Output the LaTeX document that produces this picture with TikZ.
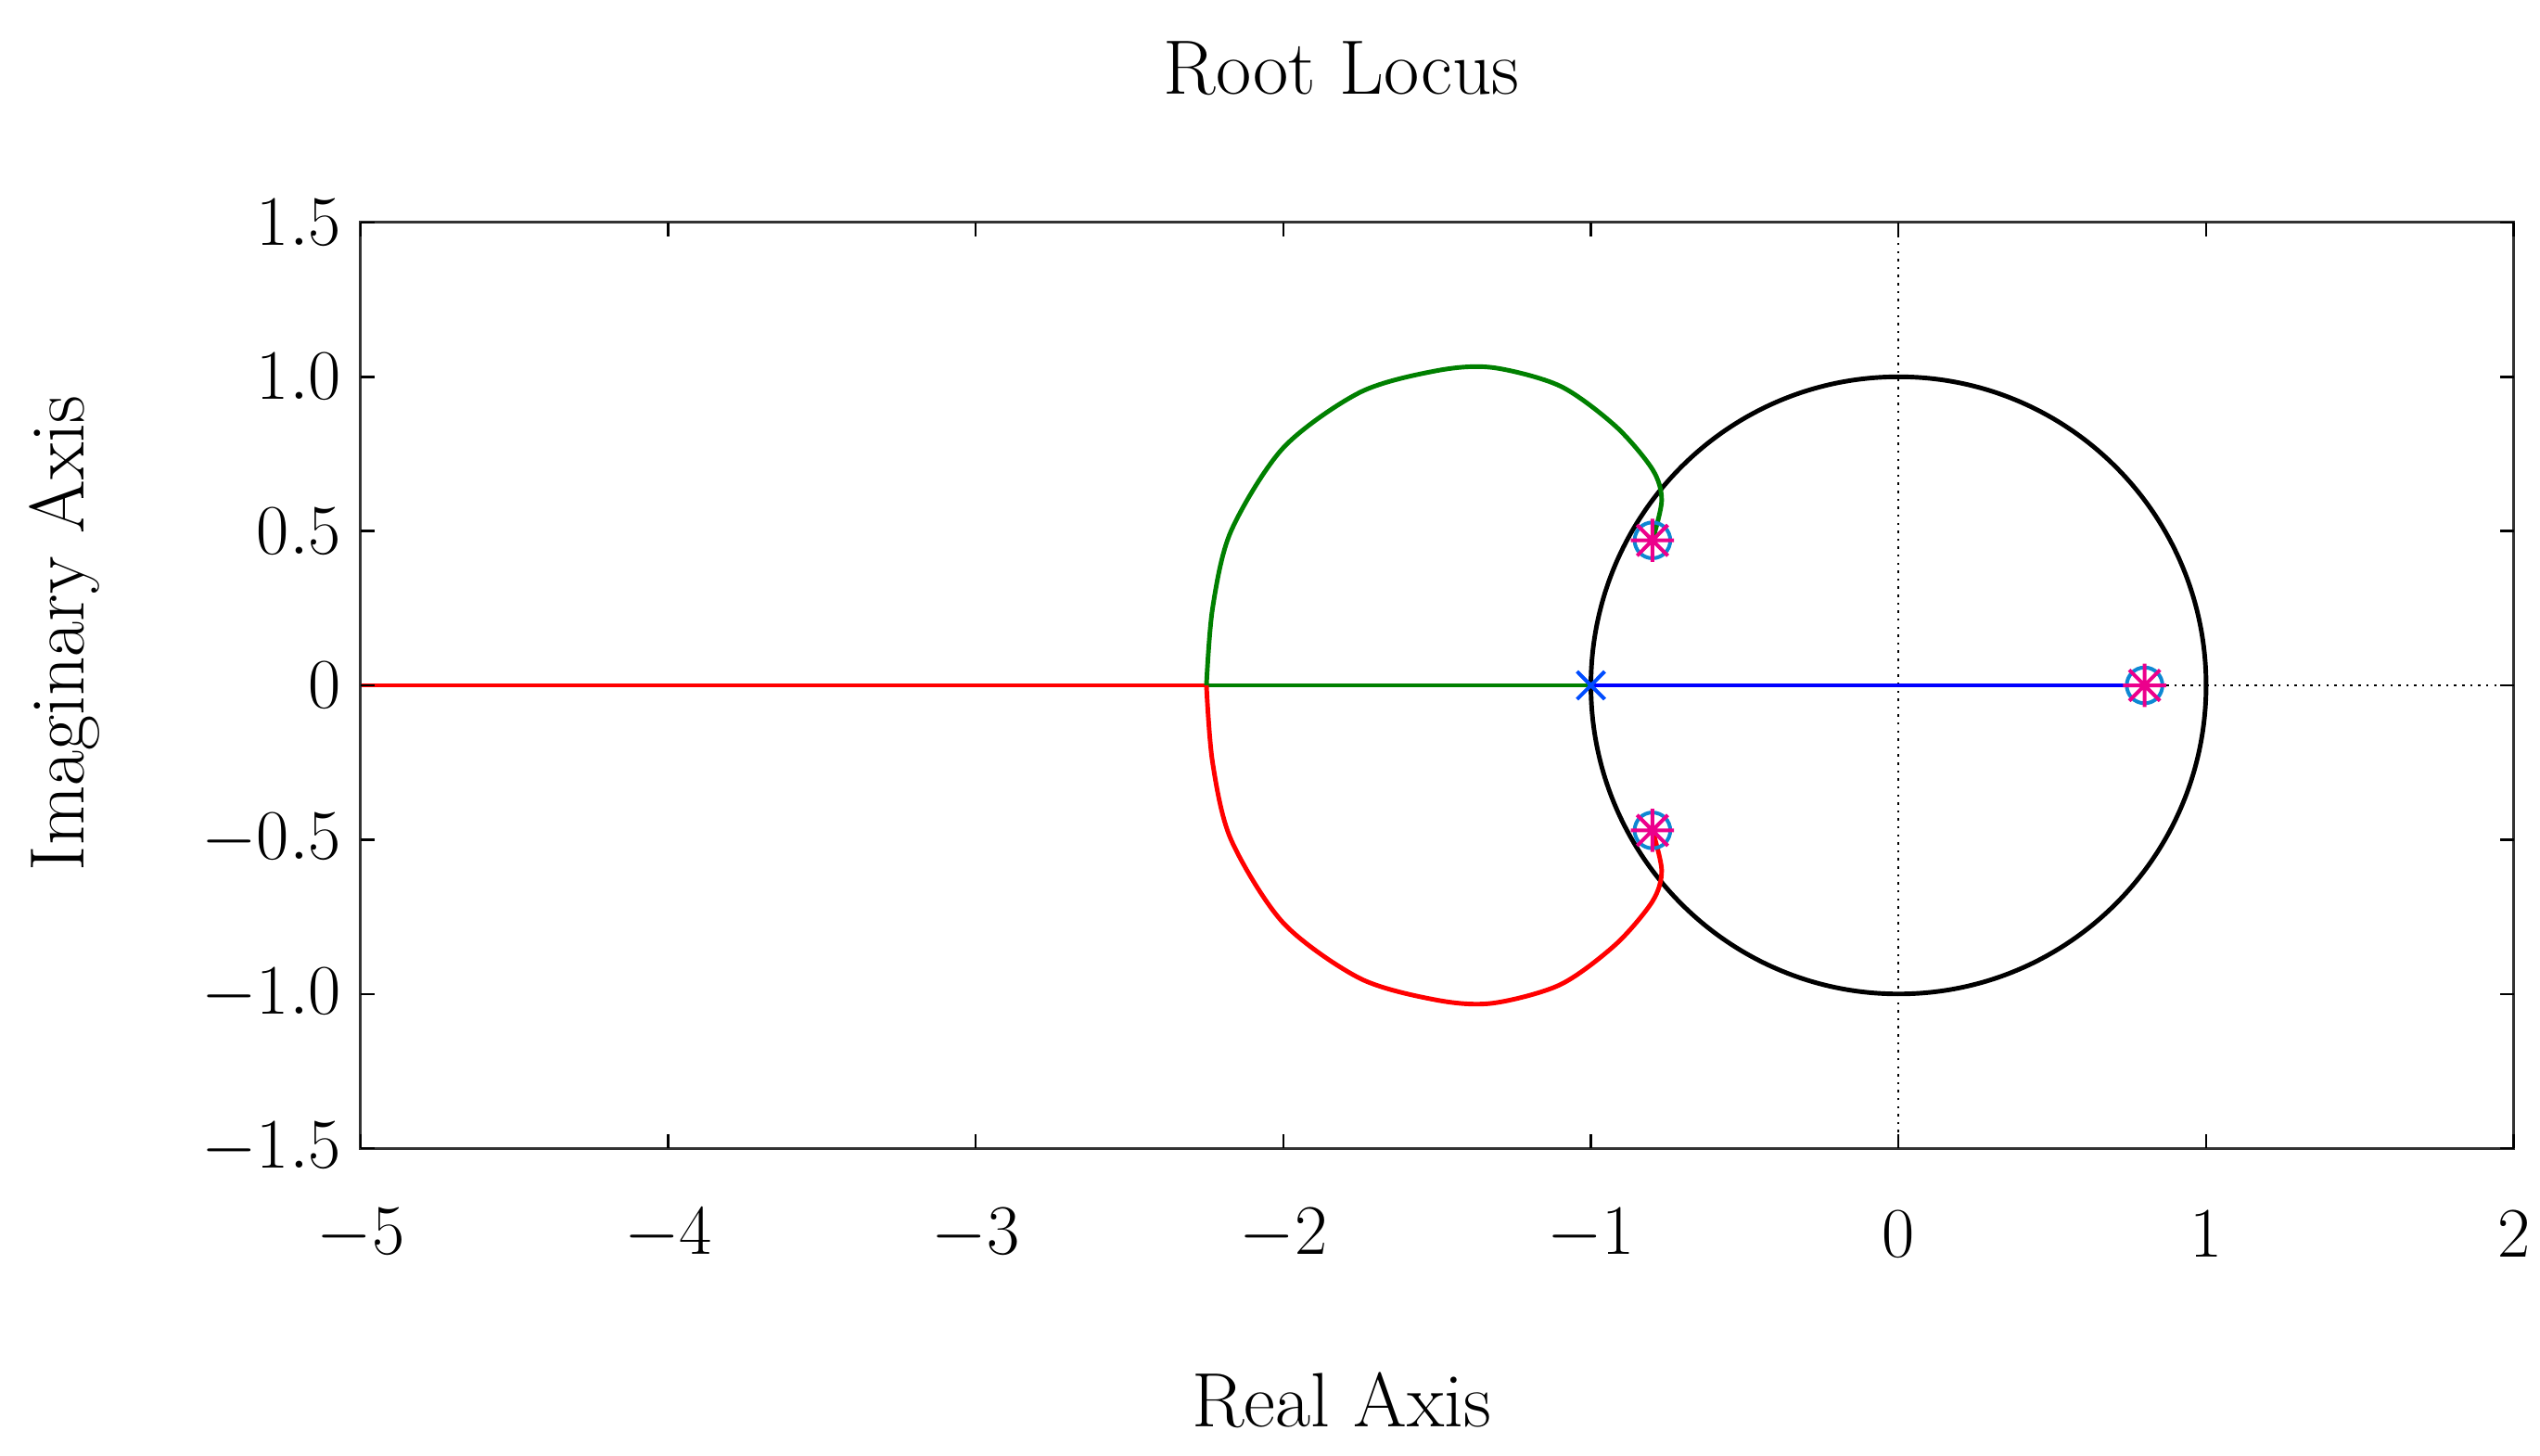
\documentclass[tikz,border=0pt]{standalone}
\usetikzlibrary{plotmarks}
\tikzset{lbl/.style={font=\fontsize{25}{29}\selectfont},
 ttl/.style={font=\fontsize{27}{31}\selectfont},
 locus/.style={line width=1.6pt},
 mk/.style={line width=1.3pt}}
\begin{document}
\begin{tikzpicture}
\useasboundingbox (0,0) rectangle (31.28,17.92);
\node[ttl] (title) at (16.52,17.08) {Root Locus};
\node[ttl] (xl) at (16.52,0.68) {Real Axis};
\node[ttl,rotate=90] (yl) at (0.8,10.12) {Imaginary Axis};
\begin{scope}[shift={(23.38,9.48)},x=3.788cm,y=3.8cm]
\draw[dotted,line width=0.8pt] (0,-1.5) -- (0,1.5);
\draw[dotted,line width=0.8pt] (-5,0) -- (2,0);
\draw[locus,black] (0,0) circle[x radius=1,y radius=1];
\draw[locus,red] (-5,0) -- (-2.25,0);
\draw[locus,green!50!black] (-2.25,0) -- (-1,0);
\draw[locus,blue] (-1,0) -- (0.8,0);
\draw[locus,green!50!black] plot[smooth] coordinates {(-2.25,0) (-2.23,0.25) (-2.17,0.5) (-2.0,0.77) (-1.75,0.95) (-1.5,1.02) (-1.32,1.03) (-1.1,0.97) (-0.92,0.84) (-0.8,0.7) (-0.77,0.6) (-0.8,0.47)};
\draw[locus,red] plot[smooth] coordinates {(-2.25,0) (-2.23,-0.25) (-2.17,-0.5) (-2.0,-0.77) (-1.75,-0.95) (-1.5,-1.02) (-1.32,-1.03) (-1.1,-0.97) (-0.92,-0.84) (-0.8,-0.7) (-0.77,-0.6) (-0.8,-0.47)};
\foreach \p in {(-0.8,0.47),(-0.8,-0.47),(0.8,0)}{
 \draw[mk,cyan!70!blue] \p circle (0.058);
 \draw[mk,magenta] \p ++(-0.07,0) -- ++(0.14,0) \p ++(0,-0.07) -- ++(0,0.14)
   \p ++(-0.05,-0.05) -- ++(0.1,0.1) \p ++(-0.05,0.05) -- ++(0.1,-0.1);
}
\draw[mk,blue!70!cyan] (-1,0) ++(-0.045,-0.045) -- ++(0.09,0.09) (-1,0) ++(-0.045,0.045) -- ++(0.09,-0.09);
\draw[line width=1pt,black!80] (-5,-1.5) rectangle (2,1.5);
\foreach \x/\t in {-5/$-5$,-4/$-4$,-3/$-3$,-2/$-2$,-1/$-1$,0/$0$,1/$1$,2/$2$}{
 \draw[line width=0.8pt] (\x,-1.5) -- ++(0,0.045) (\x,1.5) -- ++(0,-0.045);
 \node[lbl] (tx\x) at (\x,-1.78) {\t};}
\foreach \y/\t in {-1.5/$-1.5$,-1/$-1.0$,-0.5/$-0.5$,0/$0$,0.5/$0.5$,1/$1.0$,1.5/$1.5$}{
 \draw[line width=0.8pt] (-5,\y) -- ++(0.045,0) (2,\y) -- ++(-0.045,0);
 \node[lbl,anchor=east] (ty\y) at (-5.03,\y) {\t};}
\end{scope}
\end{tikzpicture}
\end{document}
